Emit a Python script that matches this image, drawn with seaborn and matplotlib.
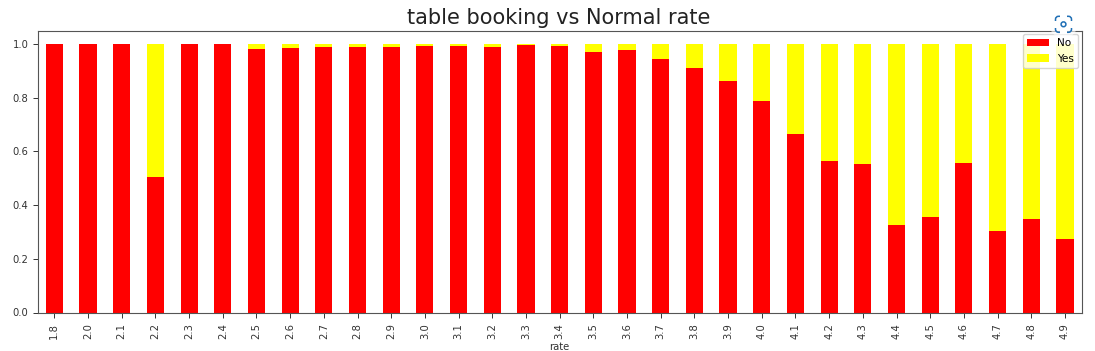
import matplotlib
matplotlib.use("Agg")
import matplotlib.pyplot as plt
import seaborn as sns
from matplotlib.patches import Circle, FancyBboxPatch, Rectangle
from matplotlib.transforms import IdentityTransform

rates = ["1.8", "2.0", "2.1", "2.2", "2.3", "2.4", "2.5", "2.6", "2.7", "2.8",
         "2.9", "3.0", "3.1", "3.2", "3.3", "3.4", "3.5", "3.6", "3.7", "3.8",
         "3.9", "4.0", "4.1", "4.2", "4.3", "4.4", "4.5", "4.6", "4.7", "4.8", "4.9"]
no_share = [1.0, 1.0, 1.0, 0.503, 1.0, 1.0, 0.981, 0.985, 0.99, 0.99,
            0.99, 0.994, 0.994, 0.99, 0.997, 0.994, 0.97, 0.978, 0.943, 0.912,
            0.862, 0.786, 0.665, 0.565, 0.554, 0.326, 0.357, 0.558, 0.304, 0.349, 0.275]
yes_share = [1 - v for v in no_share]

plt.rcParams['font.family'] = 'DejaVu Sans'
fig, ax = plt.subplots(figsize=(10.95, 3.51), dpi=100)
fig.subplots_adjust(left=37.5 / 1095, right=1081.8 / 1095, top=1 - 30.5 / 351, bottom=1 - 312.5 / 351)

sns.barplot(x=rates, y=no_share, color="#ff0000", saturation=1, width=0.51, ax=ax, label="No")
sns.barplot(x=rates, y=yes_share, bottom=no_share, color="#ffff00", saturation=1, width=0.51, ax=ax, label="Yes")

ax.set_xlim(-0.5, len(rates) - 0.5)
ax.set_ylim(0, 1.05)
ax.set_yticks([0, 0.2, 0.4, 0.6, 0.8, 1.0])
ax.tick_params(axis="x", labelrotation=90, labelsize=7.2, length=3.5, width=0.7, colors="#333333", pad=4)
ax.tick_params(axis="y", labelsize=7.2, length=3.5, width=0.7, colors="#333333", pad=3)
ax.set_xlabel("rate", fontsize=7.2, color="#333333", labelpad=2.5)
ax.set_title("table booking vs Normal rate", fontsize=15, color="#222222", pad=5, x=0.4995)
for s in ax.spines.values():
    s.set_color("#555555")
    s.set_linewidth(0.8)
ax.legend(loc="upper right", fontsize=7.6, borderaxespad=0.35, handlelength=2.0, labelspacing=0.5)

# capture icon sitting on the screenshot (pixel coordinates, y up)
cx, cy = 1063.5, 351 - 24.3
fig.add_artist(Circle((cx, cy), 14, transform=IdentityTransform(), fc="white", ec="none", alpha=0.6, zorder=5))
fig.add_artist(FancyBboxPatch((cx - 8, cy - 8), 16, 16, boxstyle="round,pad=0,rounding_size=3",
                              transform=IdentityTransform(), fc="none", ec="#1f6fb5", lw=1.1, zorder=6))
fig.add_artist(Rectangle((cx - 3.5, cy - 10), 7, 20, transform=IdentityTransform(), fc="white", ec="none", zorder=7))
fig.add_artist(Rectangle((cx - 10, cy - 3.5), 20, 7, transform=IdentityTransform(), fc="white", ec="none", zorder=7))
fig.add_artist(Circle((cx, cy), 2.4, transform=IdentityTransform(), fc="none", ec="#1f6fb5", lw=1.1, zorder=8))

fig.savefig("out.png", dpi=100)
